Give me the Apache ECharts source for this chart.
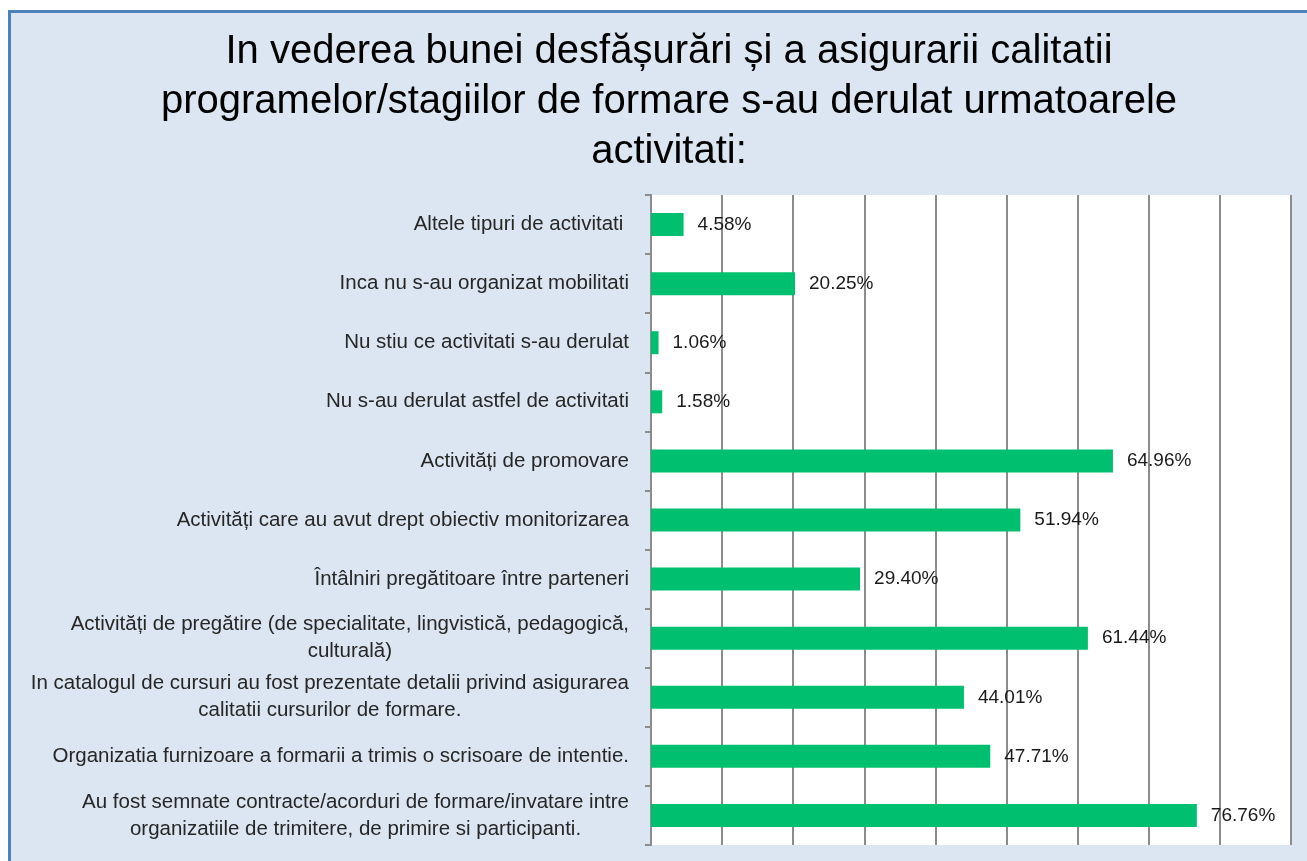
<!DOCTYPE html>
<html>
<head>
<meta charset="utf-8">
<script src="https://cdn.jsdelivr.net/npm/echarts@6/dist/echarts.min.js"></script>
<style>
  html, body { margin: 0; padding: 0; background: #fff; overflow: hidden; }
  #frame {
    position: absolute; left: 8px; top: 10px; width: 1400px; height: 1000px;
    border: 3px solid #4f81bd; background: #dce6f2;
  }
  #chart { position: absolute; left: 0; top: 0; width: 1307px; height: 861px; }
</style>
</head>
<body>
<div id="frame"></div>
<div id="chart"></div>
<script>
// categories listed top to bottom, as in the picture
const categories = [
    'Altele tipuri de activitati ',
    'Inca nu s-au organizat mobilitati',
    'Nu stiu ce activitati s-au derulat',
    'Nu s-au derulat astfel de activitati',
    'Activități de promovare',
    'Activități care au avut drept obiectiv monitorizarea',
    'Întâlniri pregătitoare între parteneri',
    'Activități de pregătire (de specialitate, lingvistică, pedagogică,\nculturală)',
    'In catalogul de cursuri au fost prezentate detalii privind asigurarea\ncalitatii cursurilor de formare.',
    'Organizatia furnizoare a formarii a trimis o scrisoare de intentie.',
    'Au fost semnate contracte/acorduri de formare/invatare intre\norganizatiile de trimitere, de primire si participanti.'
];
const percentages = [4.58, 20.25, 1.06, 1.58, 64.96, 51.94, 29.40, 61.44, 44.01, 47.71, 76.76];

const titleText = 'In vederea bunei desfășurări și a asigurarii calitatii\nprogramelor/stagiilor de formare s-au derulat urmatoarele\nactivitati:';

const chart = echarts.init(document.getElementById('chart'));

const options = {
    backgroundColor: 'transparent',
    animation: false,
    title: {
        text: titleText,
        left: 664,
        top: 22,
        textAlign: 'center',
        textStyle: {
            fontFamily: 'Liberation Sans',
            fontSize: 40,
            fontWeight: 'normal',
            color: '#000',
            lineHeight: 50
        }
    },
    grid: {
        left: 651,
        right: 16,
        top: 195,
        bottom: 16,
        show: true,
        backgroundColor: '#fff',
        borderWidth: 0
    },
    xAxis: {
        type: 'value',
        min: 0,
        max: 90,
        interval: 10,
        axisLabel: { show: false },
        axisLine: { show: false },
        axisTick: { show: false },
        splitLine: { lineStyle: { color: '#8c8c8c', width: 2 } }
    },
    yAxis: {
        type: 'category',
        inverse: true,
        data: categories,
        axisLine: { lineStyle: { color: '#8c8c8c', width: 2 } },
        axisTick: { show: true, length: 6, lineStyle: { color: '#8c8c8c', width: 2 } },
        axisLabel: {
            margin: 22,
            formatter: function (value) {
                return value.split('\n').map(function (line) {
                    return '{c|' + line + '}';
                }).join('\n');
            },
            rich: {
                c: {
                    align: 'center',
                    fontFamily: 'Liberation Sans',
                    fontSize: 20.5,
                    lineHeight: 27,
                    color: '#262626'
                }
            }
        }
    },
    series: [
        {
            type: 'bar',
            data: percentages,
            barWidth: 23,
            itemStyle: { color: '#00c070' },
            label: {
                show: true,
                position: 'right',
                distance: 14,
                fontFamily: 'Liberation Sans',
                fontSize: 19,
                color: '#1a1a1a',
                formatter: function (params) {
                    return params.value.toFixed(2) + '%';
                }
            }
        }
    ]
};

chart.setOption(options);
</script>
</body>
</html>
